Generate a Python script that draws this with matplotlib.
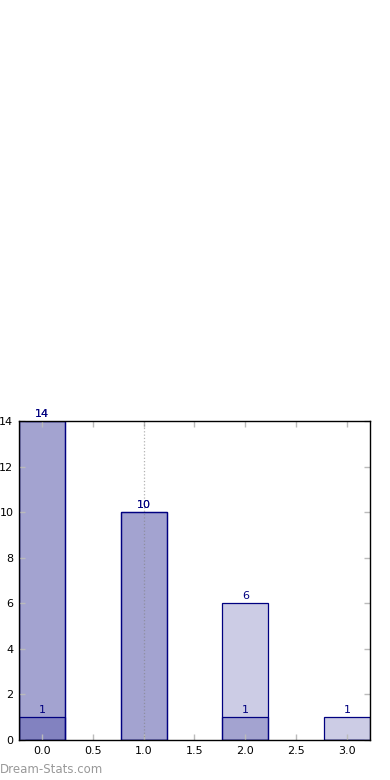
import matplotlib.pyplot as plt

# overlaid series (drawn with alpha, so overlaps darken)
positions = [0, 1, 2, 3]
series_a = [14, 10, 6, 1]
series_b = [14, 10, 1, 0]
series_c = [1, 0, 0, 0]
xticks = [0.0, 0.5, 1.0, 1.5, 2.0, 2.5, 3.0]
yticks = [0, 2, 4, 6, 8, 10, 12, 14]
marker_x = 1.0

fig = plt.figure(figsize=(3.9, 7.8), dpi=100)
ax = fig.add_axes([0.0487, 0.0513, 0.9, 0.4090])

for vals in (series_a, series_b, series_c):
    ax.bar(positions, vals, width=0.45, color='navy', alpha=0.2, edgecolor='none')
    ax.bar(positions, vals, width=0.45, fill=False, edgecolor='navy', linewidth=0.9)
    for x, v in zip(positions, vals):
        if v > 0:
            ax.text(x, v + 0.08, str(v), ha='center', va='bottom', color='navy', fontsize=8)

ax.axvline(marker_x, color='gray', linestyle=':', linewidth=0.9, alpha=0.6)

ax.set_xlim(-0.225, 3.225)
ax.set_ylim(0, 14)
ax.set_xticks(xticks)
ax.set_xticklabels([f'{t:.1f}' for t in xticks])
ax.set_yticks(yticks)
ax.tick_params(direction='in', length=4, width=1, color='#bbbbbb', labelsize=8,
               top=True, right=True, pad=4)
for s in ax.spines.values():
    s.set_linewidth(1.0)

fig.text(0.0, 0.005, 'Dream-Stats.com', color='#999999', fontsize=8.5,
         ha='left', va='bottom')

fig.savefig('out.png', dpi=100)
